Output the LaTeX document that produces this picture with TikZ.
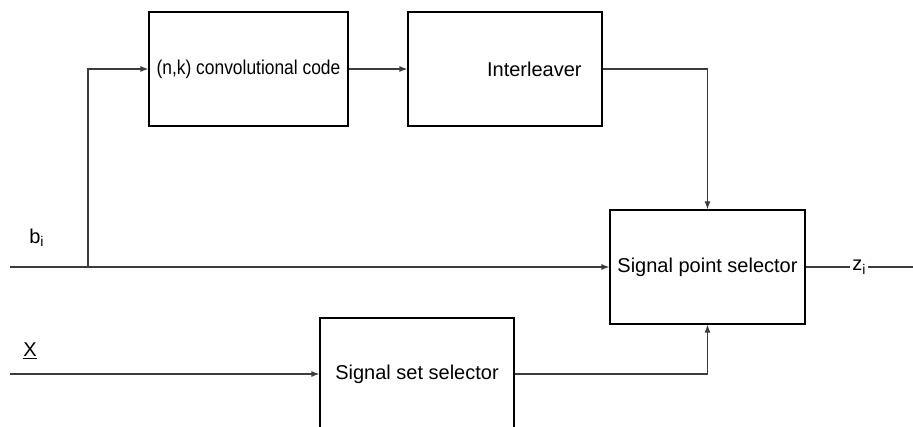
\documentclass[tikz,border=0pt]{standalone}
\usepackage{fontspec}
\setmainfont{Liberation Sans}
\usepackage{graphicx}
\usepackage{tikz}
\usetikzlibrary{arrows.meta}
\usepackage{xcolor}

\tikzset{
  blockbox/.style={draw, line width=0.9pt, minimum width=#1, minimum height=85.5pt, inner sep=0pt},
  sigline/.style={draw={rgb,255:red,60;green,60;blue,60}, line width=0.9pt},
  sigarrow/.style={sigline, -{Latex[length=6pt,width=4.5pt]}}
}

\begin{document}
\begin{tikzpicture}[x=0.75pt,y=0.75pt,yscale=-1,xscale=1,font=\fontsize{15}{18}\selectfont]
\useasboundingbox (0,0) rectangle (913,427);
\clip (0,0) rectangle (913,427);

% Blocks
\node [blockbox=149.25pt] (conv) at (248.5,69) {\scalebox{0.87}[1]{(n,k) convolutional code}};
\node [blockbox=145.5pt] (intl) at (505,69) {\hspace*{44pt}Interleaver};
\node [blockbox=146.25pt] (sps) at (707.5,267) {Signal point selector};
\node [blockbox=145.5pt, minimum height=84pt] (sss) at (417,374) {Signal set selector};

% Free ends
\coordinate (bin) at (10,267);
\coordinate (br) at (88,267);
\coordinate (xin) at (10,374);
\coordinate (zout) at (913,267);

% Connectors
\draw [sigarrow] (bin) -- (sps.west);
\draw [sigarrow] (br) |- (conv.west);
\draw [sigarrow] (conv.east) -- (intl.west);
\draw [sigarrow] (intl.east) -| (sps.north);
\draw [sigarrow] (xin) -- (sss.west);
\draw [sigarrow] (sss.east) -| (sps.south);
\draw [sigline] (sps.east) -- (zout) node [pos=0.5, fill=white, inner sep=1.5pt] (zl) {z\textsubscript{i}};

% Text Node
\node [anchor=south west, inner sep=0.75pt] (bl) at (28,248) {b\textsubscript{i}};
% Text Node
\node [anchor=south west, inner sep=0.75pt] (xl) at (22,360) {\underline{X}};

\end{tikzpicture}
\end{document}
